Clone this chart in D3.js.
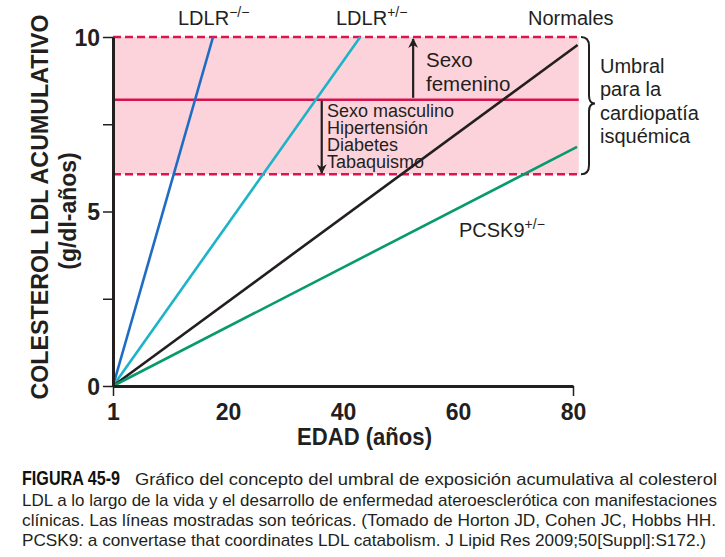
<!DOCTYPE html>
<html>
<head>
<meta charset="utf-8">
<script src="https://cdn.jsdelivr.net/npm/d3@7"></script>
<style>
    body { margin: 0; background: #fff; }
    svg { display: block; font-family: "Liberation Sans", Arial, sans-serif; }
</style>
</head>
<body>
<div id="chart-area"></div>
<script>
//Data
const seriesNames = ["LDLR", "LDLR", "Normales", "PCSK9"];
const seriesSups = ["−/−", "+/−", "", "+/−"];
const seriesEndX = [17.4, 43, 80.8, 80.7];
const seriesEndY = [10, 10, 9.77, 6.85];
const seriesColors = ["#1f6cc4", "#1db3c8", "#231f20", "#069a6c"];

const xTicks = [0, 20, 40, 60, 80];
const xTickLabels = ["1", "20", "40", "60", "80"];
const yTicks = [0, 2.5, 5, 7.5, 10];
const yTickLabels = ["0", "", "5", "", "10"];

const thresholdLow = 6.07;
const thresholdMid = 8.2;
const thresholdHigh = 10;

const riskUp = ["Sexo", "femenino"];
const riskDown = ["Sexo masculino", "Hipertensión", "Diabetes", "Tabaquismo"];
const braceLabel = ["Umbral", "para la", "cardiopatía", "isquémica"];

const captionTitle = "FIGURA 45-9";
const captionLines = [
    "Gráfico del concepto del umbral de exposición acumulativa al colesterol",
    "LDL a lo largo de la vida y el desarrollo de enfermedad ateroesclerótica con manifestaciones",
    "clínicas. Las líneas mostradas son teóricas. (Tomado de Horton JD, Cohen JC, Hobbs HH.",
    "PCSK9: a convertase that coordinates LDL catabolism. J Lipid Res 2009;50[Suppl]:S172.)",
];

const margin = { top: 37, left: 113 };
const width = 460;
const height = 349;

const svg = d3
    .select("#chart-area")
    .append("svg")
    .attr("width", 725)
    .attr("height", 557);

const g = svg
    .append("g")
    .attr("transform", `translate(${margin.left}, ${margin.top})`);

//Scales
const xScale = d3.scaleLinear().domain([0, 80]).range([0, width]);
const yScale = d3.scaleLinear().domain([0, 10]).range([height, 0]);

//Threshold band
const bandRight = xScale(81);
g.append("rect")
    .attr("x", 0)
    .attr("y", yScale(thresholdHigh))
    .attr("width", bandRight)
    .attr("height", yScale(thresholdLow) - yScale(thresholdHigh))
    .attr("fill", "#fdd3db");

[thresholdHigh, thresholdLow].forEach((v) => {
    g.append("line")
        .attr("x1", 0)
        .attr("x2", bandRight + 2)
        .attr("y1", yScale(v))
        .attr("y2", yScale(v))
        .attr("stroke", "#dc1452")
        .attr("stroke-width", 2.5)
        .attr("stroke-dasharray", "8,4");
});

g.append("line")
    .attr("x1", 0)
    .attr("x2", bandRight)
    .attr("y1", yScale(thresholdMid))
    .attr("y2", yScale(thresholdMid))
    .attr("stroke", "#d8104e")
    .attr("stroke-width", 2.5);

//Lines
const line = d3
    .line()
    .x((d) => xScale(d[0]))
    .y((d) => yScale(d[1]));

seriesNames.forEach((name, i) => {
    g.append("path")
        .datum([
            [0, 0],
            [seriesEndX[i], seriesEndY[i]],
        ])
        .attr("d", line)
        .attr("fill", "none")
        .attr("stroke", seriesColors[i])
        .attr("stroke-width", 2.6);
});

//Axes
const yAxisCall = d3
    .axisLeft(yScale)
    .tickValues(yTicks)
    .tickFormat((d, i) => yTickLabels[i])
    .tickSize(10)
    .tickSizeOuter(0)
    .tickPadding(3);

const xAxisCall = d3
    .axisBottom(xScale)
    .tickValues(xTicks)
    .tickFormat((d, i) => xTickLabels[i])
    .tickSize(10)
    .tickSizeOuter(0)
    .tickPadding(8);

const yAxis = g.append("g").attr("class", "y-axis").call(yAxisCall);
const xAxis = g
    .append("g")
    .attr("class", "x-axis")
    .attr("transform", `translate(0, ${height})`)
    .call(xAxisCall);

[xAxis, yAxis].forEach((ax) => {
    ax.select(".domain").attr("stroke", "#231f20").attr("stroke-width", 3);
    ax.selectAll(".tick line").attr("stroke", "#231f20").attr("stroke-width", 1.5);
    ax.selectAll(".tick text")
        .attr("fill", "#231f20")
        .attr("font-size", "23px")
        .attr("font-weight", "bold")
        .attr("font-family", "Liberation Sans, Arial, sans-serif");
});
yAxis.selectAll(".tick text").attr("dy", "0.36em");
// only the end ticks of the age axis have marks
xAxis
    .selectAll(".tick line")
    .attr("opacity", (d) => (d === 0 || d === 80 ? 1 : 0));

//Axis labels
svg.append("text")
    .attr("transform", "translate(48, 207) rotate(-90)")
    .attr("text-anchor", "middle")
    .attr("font-size", "24px")
    .attr("font-weight", "bold")
    .attr("fill", "#231f20")
    .attr("textLength", 385)
    .attr("lengthAdjust", "spacingAndGlyphs")
    .text("COLESTEROL LDL ACUMULATIVO");

svg.append("text")
    .attr("transform", "translate(76, 211) rotate(-90)")
    .attr("text-anchor", "middle")
    .attr("font-size", "23px")
    .attr("font-weight", "bold")
    .attr("fill", "#231f20")
    .text("(g/dl-años)");

svg.append("text")
    .attr("x", 297)
    .attr("y", 445)
    .attr("font-size", "23px")
    .attr("font-weight", "bold")
    .attr("fill", "#231f20")
    .attr("textLength", 135)
    .attr("lengthAdjust", "spacingAndGlyphs")
    .text("EDAD (años)");

//Series labels
const labelPos = [
    [178, 25],
    [336, 25],
    [528, 25],
    [459, 237],
];
seriesNames.forEach((name, i) => {
    const t = svg
        .append("text")
        .attr("x", labelPos[i][0])
        .attr("y", labelPos[i][1])
        .attr("font-size", "20px")
        .attr("fill", "#231f20")
        .text(name);
    if (seriesSups[i]) {
        t.append("tspan")
            .attr("dy", -8)
            .attr("font-size", "14px")
            .text(seriesSups[i]);
    }
});

//Risk factor arrows
const defs = svg.append("defs");
defs.append("marker")
    .attr("id", "head")
    .attr("viewBox", "0 0 10 10")
    .attr("refX", 9)
    .attr("refY", 5)
    .attr("markerWidth", 4.5)
    .attr("markerHeight", 4.5)
    .attr("markerUnits", "strokeWidth")
    .attr("orient", "auto")
    .append("path")
    .attr("d", "M0,0 L10,5 L0,10 L3,5 Z")
    .attr("fill", "#231f20");

g.append("line")
    .attr("x1", xScale(52.2))
    .attr("x2", xScale(52.2))
    .attr("y1", yScale(thresholdMid) - 2)
    .attr("y2", yScale(thresholdHigh) + 2)
    .attr("stroke", "#231f20")
    .attr("stroke-width", 2.2)
    .attr("marker-end", "url(#head)");

g.append("line")
    .attr("x1", xScale(36.3))
    .attr("x2", xScale(36.3))
    .attr("y1", yScale(thresholdMid) + 1)
    .attr("y2", yScale(thresholdLow) - 1)
    .attr("stroke", "#231f20")
    .attr("stroke-width", 2.2)
    .attr("marker-end", "url(#head)");

riskUp.forEach((txt, i) => {
    svg.append("text")
        .attr("x", 426)
        .attr("y", 67 + i * 24)
        .attr("font-size", "20.5px")
        .attr("fill", "#231f20")
        .text(txt);
});

riskDown.forEach((txt, i) => {
    svg.append("text")
        .attr("x", 327)
        .attr("y", 117 + i * 17)
        .attr("font-size", "18px")
        .attr("fill", "#231f20")
        .text(txt);
});

//Brace
const bTop = margin.top + yScale(thresholdHigh);
const bBot = margin.top + yScale(thresholdLow);
const bMid = (bTop + bBot) / 2 - 2;
const bx = 581;
svg.append("path")
    .attr(
        "d",
        `M${bx},${bTop} Q${bx + 8},${bTop} ${bx + 8},${bTop + 9}
         L${bx + 8},${bMid - 8} Q${bx + 8},${bMid} ${bx + 14},${bMid}
         Q${bx + 8},${bMid} ${bx + 8},${bMid + 8}
         L${bx + 8},${bBot - 9} Q${bx + 8},${bBot} ${bx},${bBot}`
    )
    .attr("fill", "none")
    .attr("stroke", "#231f20")
    .attr("stroke-width", 2);

braceLabel.forEach((txt, i) => {
    svg.append("text")
        .attr("x", 600)
        .attr("y", 73 + i * 23.3)
        .attr("font-size", "20px")
        .attr("fill", "#231f20")
        .text(txt);
});

//Caption
svg.append("text")
    .attr("x", 22)
    .attr("y", 485)
    .attr("font-weight", "bold")
    .attr("fill", "#111")
    .attr("font-size", "20px")
    .attr("textLength", 98)
    .attr("lengthAdjust", "spacingAndGlyphs")
    .text(captionTitle);

svg.append("text")
    .attr("x", 135)
    .attr("y", 485)
    .attr("font-size", "17px")
    .attr("fill", "#231f20")
    .attr("textLength", 717 - 135)
    .attr("lengthAdjust", "spacingAndGlyphs")
    .text(captionLines[0]);

const capEnds = [717, 716, 706];
captionLines.slice(1).forEach((txt, i) => {
    svg.append("text")
        .attr("x", 22)
        .attr("y", 506 + i * 20)
        .attr("font-size", "17px")
        .attr("fill", "#231f20")
        .attr("textLength", capEnds[i] - 22)
        .attr("lengthAdjust", "spacingAndGlyphs")
        .text(txt);
});
</script>
</body>
</html>
